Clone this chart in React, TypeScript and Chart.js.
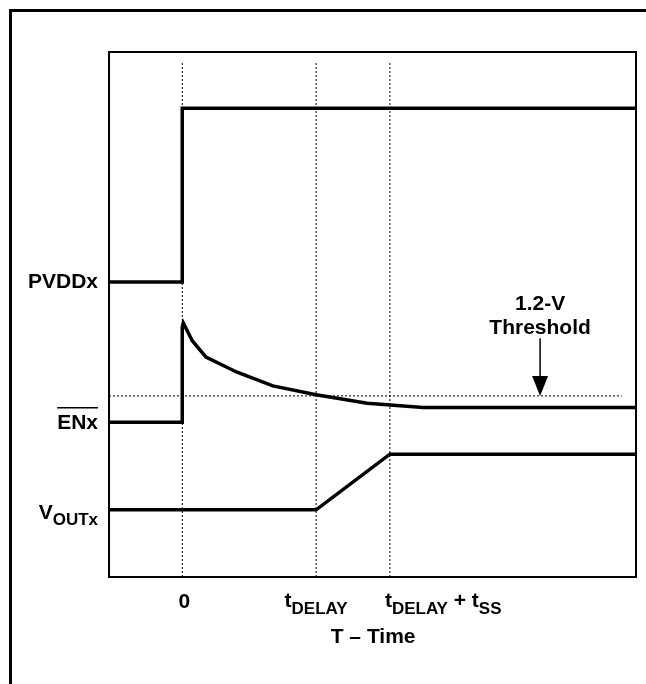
import React, { useEffect, useRef } from "react";
import { Chart, registerables } from "chart.js";

Chart.register(...registerables);

// ---- data (arbitrary time / level units) ----
const X_MIN = 0;
const X_MAX = 100;
const Y_MIN = 0;
const Y_MAX = 100;

// event times
const T0 = 13.9;
const T_DELAY = 39.3;
const T_DELAY_SS = 53.3;
const MARKER_TOP = 97.9;

// PVDDx
const pvddX = [X_MIN, T0, T0, X_MAX];
const pvddY = [56.2, 56.2, 89.3, 89.3];

// ENx (with decaying overshoot)
const enX = [X_MIN, T0, T0, 14.1, 15.8, 18.4, 24.3, 31.1, T_DELAY, 49.0, 59.6, X_MAX];
const enY = [29.5, 29.5, 47.6, 48.4, 45.0, 41.9, 39.0, 36.4, 34.7, 33.1, 32.3, 32.3];

// VOUTx
const voutX = [X_MIN, T_DELAY, T_DELAY_SS, X_MAX];
const voutY = [12.8, 12.8, 23.4, 23.4];

// 1.2-V threshold
const THRESHOLD_Y = 34.5;
const thresholdX = [X_MIN, 97.3];
const ARROW_X = 81.8;
const ARROW_TOP_Y = 45.5;

// labels
const signalNames = ["PVDDx", "ENx", "VOUTx"];
const signalLevels = [pvddY[0], enY[0], voutY[0]];
const tickValues = [T0, T_DELAY, T_DELAY_SS];
const xTitle = "T \u2013 Time";
const thresholdText = ["1.2-V", "Threshold"];

const FONT = '"Liberation Sans", Arial, Helvetica, sans-serif';

const pts = (xs: number[], ys: number[]) => xs.map((v, i) => ({ x: v, y: ys[i] }));

const overlay = {
  id: "overlay",
  afterDraw(chart: any) {
    const { ctx, chartArea: ca, scales } = chart;
    const x = scales.x;
    const y = scales.y;
    ctx.save();
    ctx.strokeStyle = "#000";
    ctx.fillStyle = "#000";

    // outer frame (top + left visible)
    ctx.lineWidth = 3;
    ctx.beginPath();
    ctx.moveTo(10.5, 720);
    ctx.lineTo(10.5, 10.5);
    ctx.lineTo(720, 10.5);
    ctx.stroke();

    // plot box
    ctx.lineWidth = 2;
    ctx.strokeRect(ca.left, ca.top, ca.width, ca.height);

    const big = `bold 21px ${FONT}`;
    const sub = `bold 17px ${FONT}`;

    // left signal labels
    const labelRight = ca.left - 11;
    ctx.textBaseline = "alphabetic";
    // PVDDx
    {
      const yy = y.getPixelForValue(signalLevels[0]);
      ctx.font = big;
      ctx.textAlign = "right";
      ctx.fillText(signalNames[0], labelRight, yy + 6);
    }
    // ENx with overline
    {
      const yy = y.getPixelForValue(signalLevels[1]);
      ctx.font = big;
      ctx.textAlign = "right";
      ctx.fillText(signalNames[1], labelRight, yy + 7);
      const w = ctx.measureText(signalNames[1]).width;
      ctx.lineWidth = 1.5;
      ctx.beginPath();
      ctx.moveTo(labelRight - w, yy - 14.5);
      ctx.lineTo(labelRight, yy - 14.5);
      ctx.stroke();
    }
    // V_OUTx
    {
      const yy = y.getPixelForValue(signalLevels[2]);
      const main = signalNames[2].slice(0, 1);
      const subTxt = signalNames[2].slice(1);
      ctx.font = sub;
      const ws = ctx.measureText(subTxt).width;
      ctx.font = big;
      const wm = ctx.measureText(main).width;
      ctx.textAlign = "left";
      const start = labelRight - ws - wm;
      ctx.fillText(main, start, yy + 9);
      ctx.font = sub;
      ctx.fillText(subTxt, start + wm, yy + 15);
    }

    // composite text helper: parts [text, isSub]
    const drawParts = (parts: [string, boolean][], xStart: number, base: number) => {
      let cx = xStart;
      ctx.textAlign = "left";
      for (const [t, s] of parts) {
        ctx.font = s ? sub : big;
        ctx.fillText(t, cx, s ? base + 7 : base);
        cx += ctx.measureText(t).width;
      }
    };
    const partsWidth = (parts: [string, boolean][]) => {
      let w = 0;
      for (const [t, s] of parts) {
        ctx.font = s ? sub : big;
        w += ctx.measureText(t).width;
      }
      return w;
    };

    const tickBase = ca.bottom + 31;
    // 0
    ctx.font = big;
    ctx.textAlign = "center";
    ctx.fillText("0", x.getPixelForValue(tickValues[0]) + 2, tickBase);
    // tDELAY
    const p1: [string, boolean][] = [["t", false], ["DELAY", true]];
    const w1 = partsWidth(p1);
    drawParts(p1, x.getPixelForValue(tickValues[1]) - w1 / 2, tickBase - 1);
    // tDELAY + tSS
    const p2: [string, boolean][] = [["t", false], ["DELAY", true], [" + t", false], ["SS", true]];
    drawParts(p2, x.getPixelForValue(tickValues[2]) - 5, tickBase - 1);

    // axis title
    ctx.font = big;
    ctx.textAlign = "center";
    ctx.fillText(xTitle, x.getPixelForValue(T_DELAY) + 57, ca.bottom + 66);

    // threshold annotation
    const ax = x.getPixelForValue(ARROW_X);
    const aTop = y.getPixelForValue(ARROW_TOP_Y);
    const aTip = y.getPixelForValue(THRESHOLD_Y);
    ctx.font = big;
    ctx.textAlign = "center";
    ctx.fillText(thresholdText[0], ax, aTop - 28);
    ctx.fillText(thresholdText[1], ax, aTop - 4);
    ctx.lineWidth = 1.5;
    ctx.beginPath();
    ctx.moveTo(ax, aTop);
    ctx.lineTo(ax, aTip - 18);
    ctx.stroke();
    ctx.beginPath();
    ctx.moveTo(ax - 8, aTip - 20);
    ctx.lineTo(ax + 8, aTip - 20);
    ctx.lineTo(ax, aTip);
    ctx.closePath();
    ctx.fill();

    ctx.restore();
  },
};

export default function App() {
  const ref = useRef<HTMLCanvasElement | null>(null);
  useEffect(() => {
    if (!ref.current) return;
    const solid = (data: { x: number; y: number }[]) => ({
      data,
      borderColor: "#000",
      borderWidth: 3.5,
      pointRadius: 0,
      tension: 0,
      fill: false,
      borderJoinStyle: "miter" as const,
      borderCapStyle: "butt" as const,
    });
    const dotted = (data: { x: number; y: number }[]) => ({
      data,
      borderColor: "#000",
      borderWidth: 1,
      borderDash: [2, 2],
      pointRadius: 0,
      tension: 0,
      fill: false,
    });
    const chart = new Chart(ref.current, {
      type: "line",
      data: {
        datasets: [
          ...tickValues.map((t) => dotted(pts([t, t], [Y_MIN, MARKER_TOP]))),
          dotted(pts(thresholdX, [THRESHOLD_Y, THRESHOLD_Y])),
          solid(pts(pvddX, pvddY)),
          solid(pts(enX, enY)),
          solid(pts(voutX, voutY)),
        ] as any,
      },
      options: {
        animation: false,
        responsive: false,
        devicePixelRatio: 1,
        layout: { padding: { left: 109, top: 52, right: 10, bottom: 107 } },
        plugins: { legend: { display: false }, tooltip: { enabled: false } },
        scales: {
          x: { type: "linear", min: X_MIN, max: X_MAX, display: false },
          y: { type: "linear", min: Y_MIN, max: Y_MAX, display: false },
        },
      },
      plugins: [overlay],
    });
    return () => chart.destroy();
  }, []);
  return (
    <div style={{ position: "fixed", left: 0, top: 0, width: 646, height: 684, background: "#fff" }}>
      <canvas ref={ref} width={646} height={684} style={{ display: "block" }} />
    </div>
  );
}
